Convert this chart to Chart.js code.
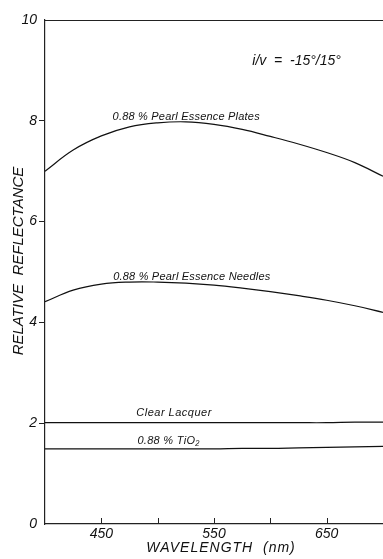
<!DOCTYPE html>
<html><head><meta charset="utf-8">
<script src="https://cdn.jsdelivr.net/npm/chart.js@4/dist/chart.umd.min.js"></script>
<style>html,body{margin:0;padding:0;background:#fff}#wrap{width:383px;height:559px}</style>
</head><body><div id="wrap"><canvas id="c" width="383" height="559"></canvas></div>
<script>
const wavelengths  = [400,425,450,475,500,525,550,575,600,625,650,675,700];
const pearlPlates  = [7.00,7.42,7.70,7.88,7.96,7.98,7.93,7.83,7.69,7.54,7.37,7.17,6.90];
const pearlNeedles = [4.41,4.64,4.76,4.80,4.80,4.78,4.74,4.68,4.61,4.53,4.44,4.33,4.20];
const clearLacquer = [2.01,2.01,2.01,2.01,2.01,2.01,2.01,2.01,2.01,2.01,2.01,2.02,2.02];
const tio2         = [1.49,1.49,1.49,1.49,1.49,1.49,1.49,1.50,1.50,1.51,1.52,1.53,1.54];
const xTickValues = [400,450,500,550,600,650,700];
const xTickLabels = ['','450','','550','','650',''];
const yTickValues = [0,2,4,6,8,10];
const yTickLabels = ['0','2','4','6','8','10'];
const seriesNames = ['0.88 % Pearl Essence Plates','0.88 % Pearl Essence Needles','Clear Lacquer','0.88 % TiO\u2082'];
const xTitle = 'WAVELENGTH  (nm)';
const yTitle = 'RELATIVE  REFLECTANCE';
const noteText = 'i/v  =  -15\u00b0/15\u00b0';

const FONT = '"Liberation Sans", Arial, sans-serif';
const toPts = arr => arr.map((v,i)=>({x:wavelengths[i], y:v}));
const mk = (label, arr) => ({label, data: toPts(arr), borderColor:'#111', borderWidth:1.2,
  pointRadius:0, fill:false, tension:0.4});

const annotate = {
  id:'annotate',
  afterDraw(chart){
    const {ctx, chartArea:a, scales:{x,y}} = chart;
    ctx.save();
    ctx.strokeStyle = '#222'; ctx.lineWidth = 1.2;
    ctx.beginPath(); ctx.moveTo(a.left, a.top+0.5); ctx.lineTo(a.right, a.top+0.5); ctx.stroke();
    ctx.lineWidth = 1;
    x.ticks.forEach(t=>{
      if (t.value<=x.min || t.value>=x.max) return;
      const px = Math.round(x.getPixelForValue(t.value))+0.5;
      ctx.beginPath(); ctx.moveTo(px, a.bottom); ctx.lineTo(px, a.bottom-6); ctx.stroke();
    });
    ctx.fillStyle = '#111'; ctx.textBaseline = 'middle'; ctx.textAlign = 'left';
    const items = [
      {t:seriesNames[0], wl:460, v:8.08, size:11, ls:'0.2px'},
      {t:seriesNames[1], wl:460.5, v:4.90, size:11, ls:'0.2px'},
      {t:seriesNames[2], wl:481, v:2.20, size:11, ls:'0.5px'},
      {t:seriesNames[3], wl:482, v:1.65, size:11, ls:'0.3px'},
      {t:noteText, wl:584, v:9.19, size:14, ls:'0px'}
    ];
    items.forEach(it=>{
      ctx.font = 'italic '+it.size+'px '+FONT;
      ctx.letterSpacing = it.ls;
      ctx.fillText(it.t, x.getPixelForValue(it.wl), y.getPixelForValue(it.v));
    });
    ctx.font = 'italic 14px '+FONT;
    ctx.letterSpacing = '1px';
    ctx.textAlign = 'center';
    ctx.fillText(xTitle, 221, 548);
    ctx.letterSpacing = '0px';
    ctx.translate(19, 261); ctx.rotate(-Math.PI/2);
    ctx.font = 'italic 15px '+FONT;
    ctx.fillText(yTitle, 0, 0);
    ctx.restore();
  }
};

new Chart(document.getElementById('c'), {
  type:'line',
  data:{datasets:[mk(seriesNames[0],pearlPlates), mk(seriesNames[1],pearlNeedles),
                  mk(seriesNames[2],clearLacquer), mk(seriesNames[3],tio2)]},
  options:{
    responsive:false, animation:false, devicePixelRatio:1,
    layout:{padding:{top:20,right:0,left:0,bottom:0}},
    plugins:{legend:{display:false}, tooltip:{enabled:false}},
    scales:{
      x:{type:'linear', min:400, max:700,
        afterBuildTicks:s=>{s.ticks = xTickValues.map(v=>({value:v}));},
        afterFit:s=>{s.height = 35;},
        ticks:{color:'#111', font:{family:FONT, size:14, style:'italic'}, padding:-6, maxRotation:0, autoSkip:false,
          callback:(v)=>{const i = xTickValues.indexOf(v); return i>=0 ? xTickLabels[i] : '';}},
        grid:{display:false},
        border:{display:true, color:'#222', width:1.2}
      },
      y:{type:'linear', min:0, max:10,
        afterBuildTicks:s=>{s.ticks = yTickValues.map(v=>({value:v}));},
        afterFit:s=>{s.width = 45;},
        ticks:{color:'#111', font:{family:FONT, size:14, style:'italic'}, padding:2,
          callback:(v)=>{const i = yTickValues.indexOf(v); return i>=0 ? yTickLabels[i] : '';}},
        grid:{display:true, drawOnChartArea:false, drawTicks:true, tickLength:6,
          color:c=> (c.tick && (c.tick.value===0 || c.tick.value===10)) ? 'rgba(0,0,0,0)' : '#222'},
        border:{display:true, color:'#222', width:1.2}
      }
    }
  },
  plugins:[annotate]
});
</script></body></html>
